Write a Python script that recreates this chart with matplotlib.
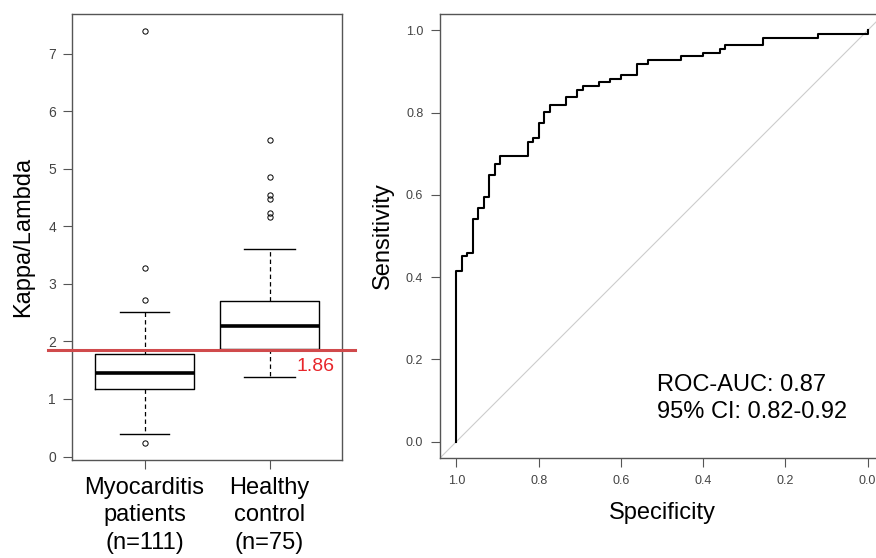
import matplotlib
matplotlib.use('Agg')
import matplotlib.pyplot as plt

plt.rcParams['font.family'] = ['Liberation Sans', 'DejaVu Sans']

# Box plot summaries
groups = ['Myocarditis\npatients\n(n=111)', 'Healthy\ncontrol\n(n=75)']
q1 = [1.18, 1.87]
median = [1.45, 2.26]
q3 = [1.79, 2.71]
whisker_lo = [0.40, 1.38]
whisker_hi = [2.52, 3.61]
outliers = [[0.23, 2.72, 3.28, 7.40],
            [4.16, 4.23, 4.48, 4.55, 4.86, 5.50]]
cutoff = 1.86

# ROC curve: specificity where each rise happens, sensitivity after the rise
spec_steps = [1.0, 0.9867, 0.9733, 0.96, 0.9467, 0.9333, 0.92, 0.9067, 0.8933,
              0.8267, 0.8133, 0.80, 0.7867, 0.7733, 0.7333, 0.7067, 0.6933,
              0.6533, 0.6267, 0.60, 0.56, 0.5333, 0.4533, 0.40, 0.36, 0.3467,
              0.2533, 0.12, 0.0]
sens_steps = [0.4144, 0.4505, 0.4595, 0.5405, 0.5676, 0.5946, 0.6486, 0.6757,
              0.6937, 0.7297, 0.7387, 0.7748, 0.8018, 0.8198, 0.8378, 0.8559,
              0.8649, 0.8739, 0.8829, 0.8919, 0.9189, 0.9279, 0.9369, 0.9459,
              0.9550, 0.9640, 0.9820, 0.9910, 1.0]
auc_text = 'ROC-AUC: 0.87\n95% CI: 0.82-0.92'

frame_col = '#555555'
tick_col = '#444444'

fig = plt.figure(figsize=(8.76, 5.58), dpi=100)

# ---- left panel: box plot ----
ax1 = fig.add_axes([72 / 876, 98 / 558, 270 / 876, 446 / 558])
stats = []
for i in range(len(groups)):
    stats.append(dict(med=median[i], q1=q1[i], q3=q3[i],
                      whislo=whisker_lo[i], whishi=whisker_hi[i],
                      fliers=outliers[i]))
ax1.bxp(stats, positions=[1, 2], widths=0.8, capwidths=0.4,
        boxprops=dict(color='black', lw=1),
        medianprops=dict(color='black', lw=2.6, solid_capstyle='butt'),
        whiskerprops=dict(color='black', lw=0.9, linestyle=(0, (3.5, 2.5))),
        capprops=dict(color='black', lw=1),
        flierprops=dict(marker='o', mfc='none', mec='black', ms=3.8, mew=0.7))
ax1.set_xlim(0.42, 2.58)
ax1.set_ylim(-0.06, 7.69)
ax1.set_yticks(range(8))
ax1.set_xticks([1, 2])
ax1.set_xticklabels(groups, fontsize=17, linespacing=1.3)
ax1.tick_params(axis='y', labelsize=10, labelcolor=tick_col, color=frame_col,
                length=6.5, pad=5)
ax1.tick_params(axis='x', color=frame_col, length=6.5, pad=6)
ax1.set_ylabel('Kappa/Lambda', fontsize=17)
ax1.yaxis.set_label_coords(-0.141, 0.5)
for s in ax1.spines.values():
    s.set_color(frame_col)
    s.set_linewidth(1)

# cut-off line runs a bit past both sides of the frame
ax1.plot([-0.089, 1.048], [cutoff, cutoff], color='#d04a4c', lw=2.2,
         transform=ax1.get_yaxis_transform(), clip_on=False, zorder=5)
ax1.annotate(f'{cutoff:.2f}', xy=(0.974, cutoff),
             xycoords=('axes fraction', 'data'), xytext=(0, -12),
             textcoords='offset points', ha='right', va='center',
             fontsize=14, color='#e8262b')

# ---- right panel: ROC curve ----
ax2 = fig.add_axes([440 / 876, 100 / 558, 444 / 876, 444 / 558])
ax2.axline((1, 0), (0, 1), color='#cccccc', lw=0.8)

xs = [spec_steps[0]]
ys = [0.0]
for sp, se in zip(spec_steps, sens_steps):
    xs += [sp, sp]
    ys += [ys[-1], se]
ax2.plot(xs, ys, color='black', lw=1.5)

ax2.set_xlim(1.04, -0.04)
ax2.set_ylim(-0.04, 1.04)
ticks = [1.0, 0.8, 0.6, 0.4, 0.2, 0.0]
ax2.set_xticks(ticks)
ax2.set_xticklabels([f'{t:.1f}' for t in ticks])
ax2.set_yticks(ticks)
ax2.set_yticklabels([f'{t:.1f}' for t in ticks])
ax2.tick_params(labelsize=9, labelcolor=tick_col, color=frame_col,
                length=6.5, pad=5.5)
ax2.set_xlabel('Specificity', fontsize=17)
ax2.set_ylabel('Sensitivity', fontsize=17)
ax2.xaxis.set_label_coords(0.5, -0.1)
ax2.yaxis.set_label_coords(-0.104, 0.5)
for s in ax2.spines.values():
    s.set_color(frame_col)
    s.set_linewidth(1)

ax2.text(0.488, 0.135, auc_text, transform=ax2.transAxes, ha='left',
         va='center', fontsize=17, linespacing=1.3)

fig.savefig('out.png', dpi=100)
